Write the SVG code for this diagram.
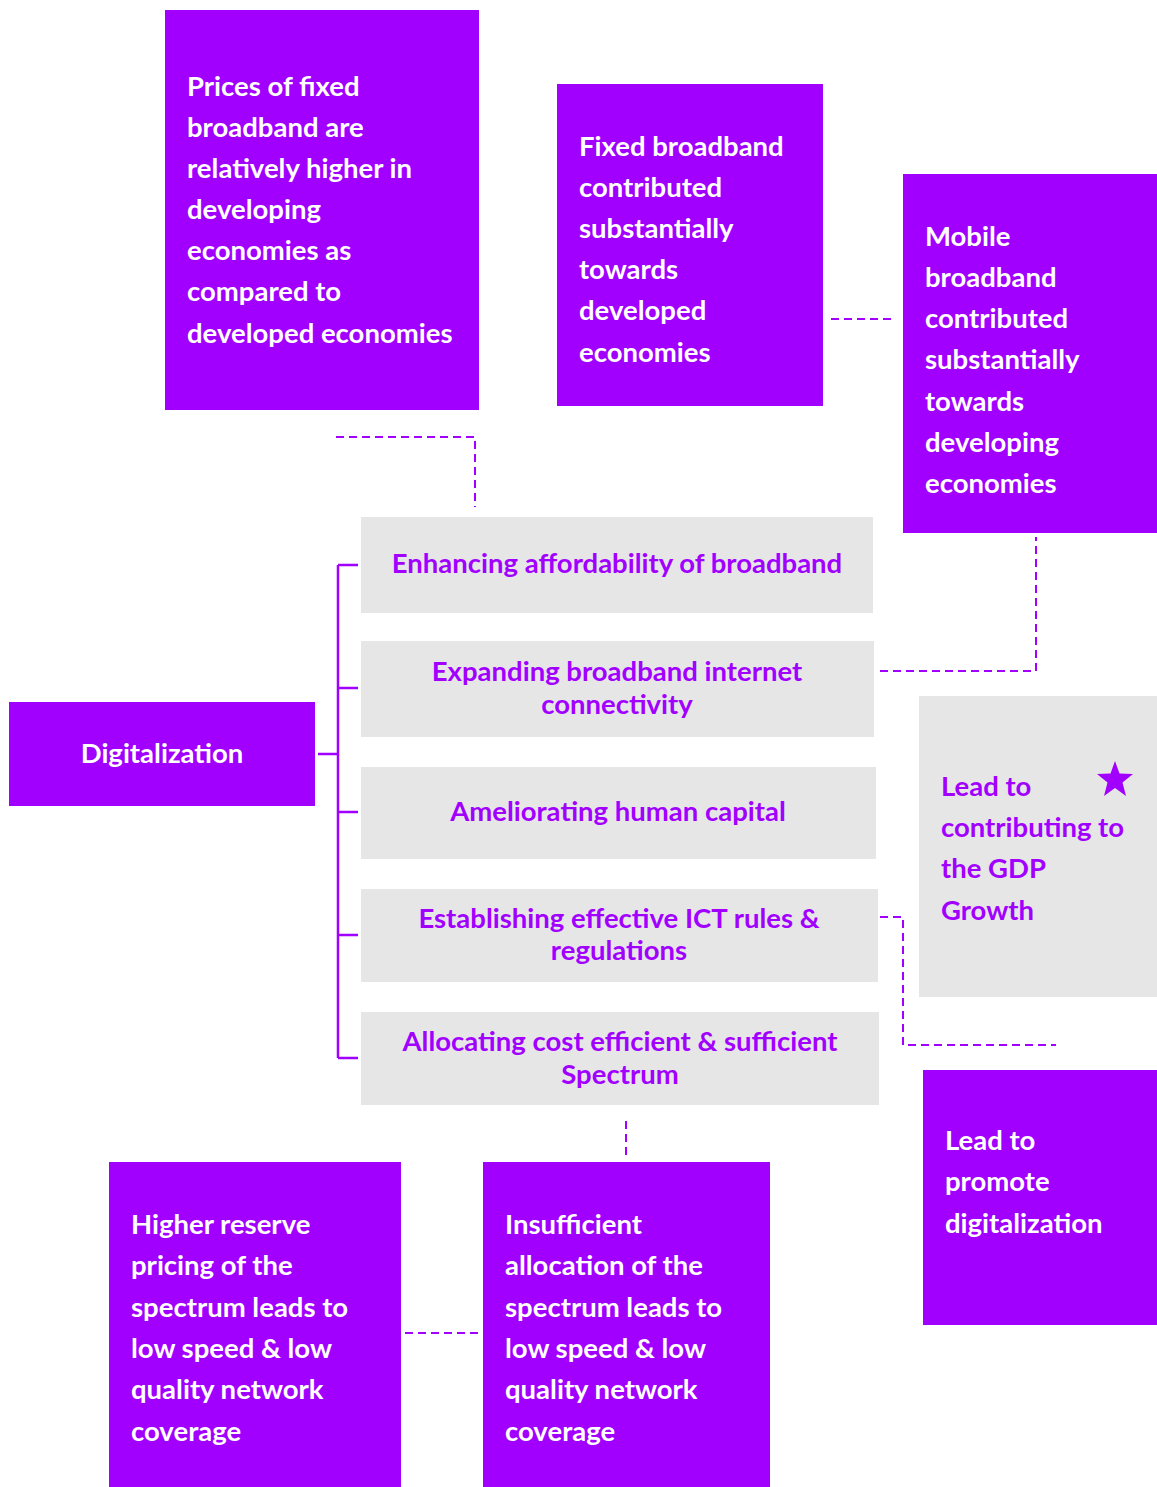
<svg xmlns="http://www.w3.org/2000/svg" width="1157" height="1487" viewBox="0 0 1157 1487">
<style>
.p{fill:#A100FF}
.g{fill:#E6E6E6}
.w{fill:#FFFFFF;font-family:Lato,"Open Sans",sans-serif;font-weight:bold;font-size:27.5px}
.t{fill:#A100FF;font-family:Lato,"Open Sans",sans-serif;font-weight:bold;font-size:27.5px}
.c{text-anchor:middle}
.s{fill:none;stroke:#A100FF;stroke-width:2.5}
.d{fill:none;stroke:#A100FF;stroke-width:2;stroke-dasharray:8 5}
</style>
<rect width="1157" height="1487" fill="#FFFFFF"/>
<g id="connectors">
<path class="s" d="M318 754H338M338 565V1058M338 565H358M338 688H358M338 812H358M338 935H358M338 1058H358"/>
<path class="d" d="M336 437H475V507"/>
<path class="d" d="M831 319H893"/>
<path class="d" d="M880 671H1036V537"/>
<path class="d" d="M880 917H903V1045H1056"/>
<path class="d" d="M626 1121V1156"/>
<path class="d" d="M405 1333H478"/>
</g>
<g id="prices">
<rect class="p" x="165" y="10" width="314" height="400"/>
<text class="w"><tspan x="187" y="96">Prices of fixed</tspan><tspan x="187" y="137">broadband are</tspan><tspan x="187" y="178">relatively higher in</tspan><tspan x="187" y="219">developing</tspan><tspan x="187" y="260">economies as</tspan><tspan x="187" y="301">compared to</tspan><tspan x="187" y="343">developed economies</tspan></text>
</g>
<g id="fixed">
<rect class="p" x="557" y="84" width="266" height="322"/>
<text class="w"><tspan x="579" y="156">Fixed broadband</tspan><tspan x="579" y="197">contributed</tspan><tspan x="579" y="238">substantially</tspan><tspan x="579" y="279">towards</tspan><tspan x="579" y="320">developed</tspan><tspan x="579" y="362">economies</tspan></text>
</g>
<g id="mobile">
<rect class="p" x="903" y="174" width="254" height="359"/>
<text class="w"><tspan x="925" y="246">Mobile</tspan><tspan x="925" y="287">broadband</tspan><tspan x="925" y="328">contributed</tspan><tspan x="925" y="369">substantially</tspan><tspan x="925" y="411">towards</tspan><tspan x="925" y="452">developing</tspan><tspan x="925" y="493">economies</tspan></text>
</g>
<g id="digitalization">
<rect class="p" x="9" y="702" width="306" height="104"/>
<text class="w c" x="162" y="763">Digitalization</text>
</g>
<g id="affordability">
<rect class="g" x="361" y="517" width="512" height="96"/>
<text class="t c" x="617" y="573">Enhancing affordability of broadband</text>
</g>
<g id="connectivity">
<rect class="g" x="361" y="641" width="513" height="96"/>
<text class="t c"><tspan x="617" y="681">Expanding broadband internet</tspan><tspan x="617" y="714">connectivity</tspan></text>
</g>
<g id="human">
<rect class="g" x="361" y="767" width="515" height="92"/>
<text class="t c" x="618" y="821">Ameliorating human capital</text>
</g>
<g id="ict">
<rect class="g" x="361" y="889" width="517" height="93"/>
<text class="t c"><tspan x="619" y="928">Establishing effective ICT rules &amp;</tspan><tspan x="619" y="960">regulations</tspan></text>
</g>
<g id="spectrum">
<rect class="g" x="361" y="1012" width="518" height="93"/>
<text class="t c"><tspan x="620" y="1051">Allocating cost efficient &amp; sufficient</tspan><tspan x="620" y="1084">Spectrum</tspan></text>
</g>
<g id="gdp">
<rect class="g" x="919" y="696" width="238" height="301"/>
<text class="t"><tspan x="941" y="796">Lead to</tspan><tspan x="941" y="837">contributing to</tspan><tspan x="941" y="878">the GDP</tspan><tspan x="941" y="920">Growth</tspan></text>
<polygon class="p" points="1115,761 1119.5,773.5 1133,774 1122.5,782.5 1126,796 1115,788 1104,796 1107.5,782.5 1097,774 1110.5,773.5"/>
</g>
<g id="promote">
<rect class="p" x="923" y="1070" width="234" height="255"/>
<text class="w"><tspan x="945" y="1150">Lead to</tspan><tspan x="945" y="1191">promote</tspan><tspan x="945" y="1233">digitalization</tspan></text>
</g>
<g id="insufficient">
<rect class="p" x="483" y="1162" width="287" height="325"/>
<text class="w"><tspan x="505" y="1234">Insufficient</tspan><tspan x="505" y="1275">allocation of the</tspan><tspan x="505" y="1317">spectrum leads to</tspan><tspan x="505" y="1358">low speed &amp; low</tspan><tspan x="505" y="1399">quality network</tspan><tspan x="505" y="1441">coverage</tspan></text>
</g>
<g id="reserve">
<rect class="p" x="109" y="1162" width="292" height="325"/>
<text class="w"><tspan x="131" y="1234">Higher reserve</tspan><tspan x="131" y="1275">pricing of the</tspan><tspan x="131" y="1317">spectrum leads to</tspan><tspan x="131" y="1358">low speed &amp; low</tspan><tspan x="131" y="1399">quality network</tspan><tspan x="131" y="1441">coverage</tspan></text>
</g>
</svg>
